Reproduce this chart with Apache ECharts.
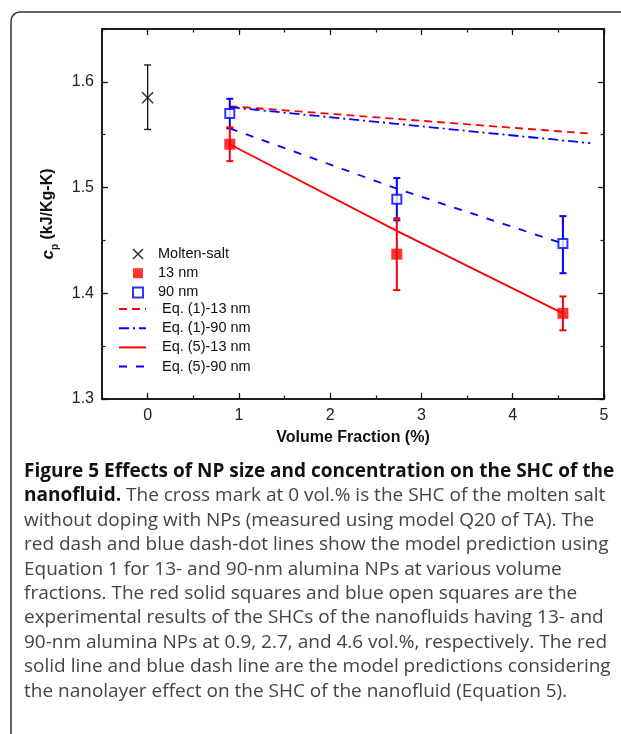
<!DOCTYPE html>
<html><head><meta charset="utf-8">
<script src="https://cdn.jsdelivr.net/npm/echarts@6/dist/echarts.min.js"></script>
<style>
html,body{margin:0;padding:0;background:#fff;}
#wrap{position:relative;width:621px;height:734px;overflow:hidden;}
#chart{position:absolute;left:0;top:0;width:621px;height:734px;}
#cap{position:absolute;left:24px;top:458px;font-family:'Open Sans',sans-serif;font-size:19px;line-height:24.4px;color:#444;white-space:nowrap;}
#cap b{color:#111;}
</style></head>
<body><div id="wrap"><div id="chart"></div>
<div id="cap"><b>Figure 5 Effects of NP size and concentration on the SHC of the<br>nanofluid.</b> The cross mark at 0 vol.% is the SHC of the molten salt<br>without doping with NPs (measured using model Q20 of TA). The<br>red dash and blue dash-dot lines show the model prediction using<br>Equation 1 for 13- and 90-nm alumina NPs at various volume<br>fractions. The red solid squares and blue open squares are the<br>experimental results of the SHCs of the nanofluids having 13- and<br>90-nm alumina NPs at 0.9, 2.7, and 4.6 vol.%, respectively. The red<br>solid line and blue dash line are the model predictions considering<br>the nanolayer effect on the SHC of the nanofluid (Equation 5).</div>
</div>
<script>
// ---- data ----
const xTickValues = [0, 1, 2, 3, 4, 5];
const yTickValues = [1.3, 1.4, 1.5, 1.6];
const moltenX = [0];
const moltenY = [1.585];
const moltenLo = [1.555];
const moltenHi = [1.616];
const volumeFraction = [0.9, 2.73, 4.55];
const nm13 = [1.541, 1.437, 1.381];
const nm13Lo = [1.525, 1.403, 1.365];
const nm13Hi = [1.557, 1.471, 1.397];
const nm90 = [1.570, 1.489, 1.447];
const nm90Lo = [1.556, 1.469, 1.419];
const nm90Hi = [1.584, 1.509, 1.473];
const eq1X = [0.9, 4.85];
const eq1_13 = [1.577, 1.551];
const eq1_90 = [1.576, 1.542];
const eq5_13 = [1.541, 1.459, 1.381];
const eq5_90 = [1.556, 1.499, 1.447];

const FONT = "'Liberation Sans', Arial, sans-serif";
const pairs = (xs, ys) => xs.map((x, i) => [x, ys[i]]);
const errData = (xs, ys, lo, hi) => xs.map((x, i) => [x, ys[i], lo[i], hi[i]]);

function errRender(color, width, cap) {
  return function (params, api) {
    const x = api.value(0), lo = api.value(2), hi = api.value(3);
    const a = api.coord([x, hi]), b = api.coord([x, lo]);
    const st = { stroke: color, lineWidth: width };
    return { type: 'group', children: [
      { type: 'line', shape: { x1: a[0], y1: a[1], x2: b[0], y2: b[1] }, style: st },
      { type: 'line', shape: { x1: a[0] - cap, y1: a[1], x2: a[0] + cap, y2: a[1] }, style: st },
      { type: 'line', shape: { x1: b[0] - cap, y1: b[1], x2: b[0] + cap, y2: b[1] }, style: st }
    ]};
  };
}

const axisLineStyle = { color: '#111', width: 1.5 };
const lbl = { fontFamily: FONT, fontSize: 16, color: '#222' };
function xAx(pos, major, showLabel, name) {
  const o = {
    type: 'value', position: pos, min: -0.5, max: 5, gridIndex: 0,
    axisLine: { show: true, onZero: false, lineStyle: axisLineStyle },
    splitLine: { show: false },
    axisTick: major ? { show: true, inside: true, length: 6, customValues: xTickValues, lineStyle: { color: '#111', width: 1.2 } }
                    : { show: true, inside: true, length: 3.5, lineStyle: { color: '#111', width: 1.2 } },
    axisLabel: showLabel ? Object.assign({ show: true, margin: 9, customValues: xTickValues, formatter: v => String(Math.round(v)) }, lbl) : { show: false }
  };
  if (!major) o.interval = 0.5;
  if (name) {
    o.name = name; o.nameLocation = 'middle'; o.nameGap = 31;
    o.nameTextStyle = { fontFamily: FONT, fontSize: 16, fontWeight: 'bold', color: '#111' };
  }
  return o;
}
function yAx(pos, major, showLabel, name) {
  const o = {
    type: 'value', position: pos, min: 1.3, max: 1.65, gridIndex: 0,
    axisLine: { show: true, onZero: false, lineStyle: axisLineStyle },
    splitLine: { show: false },
    axisTick: major ? { show: true, inside: true, length: 6, customValues: yTickValues, lineStyle: { color: '#111', width: 1.2 } }
                    : { show: true, inside: true, length: 3.5, lineStyle: { color: '#111', width: 1.2 } },
    axisLabel: showLabel ? Object.assign({ show: true, margin: 8, customValues: yTickValues, formatter: v => v.toFixed(1) }, lbl) : { show: false }
  };
  if (!major) o.interval = 0.05;
  if (name) {
    o.name = name; o.nameLocation = 'middle'; o.nameGap = 42; o.nameRotate = 90;
    o.nameTextStyle = { fontFamily: FONT, fontSize: 16, fontWeight: 'bold', color: '#111',
      rich: {
        c: { fontFamily: FONT, fontSize: 17, fontStyle: 'italic', fontWeight: 'bold', color: '#111', lineHeight: 24, verticalAlign: 'middle' },
        p: { fontFamily: FONT, fontSize: 10, fontWeight: 'bold', color: '#111', lineHeight: 10, verticalAlign: 'bottom' },
        t: { fontFamily: FONT, fontSize: 16, fontWeight: 'bold', color: '#111', lineHeight: 24, verticalAlign: 'middle' }
      } };
  }
  return o;
}

const RED = '#ff0000', BLUE = '#0000ff';
const hiddenSym = { color: 'transparent', borderColor: 'transparent', borderWidth: 0, opacity: 0 };
const option = {
  animation: false,
  backgroundColor: '#fff',
  grid: { left: 102, top: 29, right: 17, bottom: 335, containLabel: false },
  xAxis: [ xAx('bottom', true, true, 'Volume Fraction (%)'), xAx('top', true, false), xAx('bottom', false, false), xAx('top', false, false) ],
  yAxis: [ yAx('left', true, true, '{c|c}{p|p}{t| (kJ/Kg-K)}'), yAx('right', true, false), yAx('left', false, false), yAx('right', false, false) ],
  legend: [
    { orient: 'vertical', left: 132, top: 246.5, padding: 0, itemWidth: 10, itemHeight: 10, itemGap: 4.2,
      selectedMode: false, textStyle: { fontFamily: FONT, fontSize: 14.5, color: '#111', padding: [0, 0, 0, 10] },
      data: [
        { name: 'Molten-salt', icon: 'path://M0,0L10,10M10,0L0,10', itemStyle: { color: 'transparent', borderColor: '#000', borderWidth: 1.5 } },
        { name: '13 nm', icon: 'rect', itemStyle: { color: RED } },
        { name: '90 nm', icon: 'rect', itemStyle: { color: '#fff', borderColor: BLUE, borderWidth: 2 } }
      ] },
    { orient: 'vertical', left: 118, top: 301.5, padding: 0, itemWidth: 27, itemHeight: 12, itemGap: 4.2,
      selectedMode: false, textStyle: { fontFamily: FONT, fontSize: 14.5, color: '#111', padding: [0, 0, 0, 11] },
      itemStyle: hiddenSym,
      data: [
        { name: 'Eq. (1)-13 nm', itemStyle: hiddenSym },
        { name: 'Eq. (1)-90 nm', itemStyle: hiddenSym },
        { name: 'Eq. (5)-13 nm', itemStyle: hiddenSym },
        { name: 'Eq. (5)-90 nm', itemStyle: hiddenSym }
      ] }
  ],
  graphic: [
    { type: 'rect', shape: { x: 11, y: 12, width: 700, height: 800, r: 9 }, style: { fill: 'none', stroke: '#333', lineWidth: 1.5 }, z: 100, silent: true }
  ],
  series: [
    { name: 'Eq. (1)-13 nm', type: 'line', data: pairs(eq1X, eq1_13), symbol: 'none', z: 2,
      lineStyle: { color: RED, width: 1.8, type: [8, 5] }, itemStyle: { color: RED } },
    { name: 'Eq. (1)-90 nm', type: 'line', data: pairs(eq1X, eq1_90), symbol: 'none', z: 2,
      lineStyle: { color: BLUE, width: 1.8, type: [10, 4, 2, 4] }, itemStyle: { color: BLUE } },
    { name: 'Eq. (5)-13 nm', type: 'line', data: pairs(volumeFraction, eq5_13), symbol: 'none', z: 2,
      lineStyle: { color: RED, width: 1.8, type: 'solid' }, itemStyle: { color: RED } },
    { name: 'Eq. (5)-90 nm', type: 'line', data: pairs(volumeFraction, eq5_90), symbol: 'none', z: 2,
      lineStyle: { color: BLUE, width: 1.8, type: [8, 9] }, itemStyle: { color: BLUE } },
    { name: 'err-molten', type: 'custom', renderItem: errRender('#111', 1.3, 3.5), data: errData(moltenX, moltenY, moltenLo, moltenHi), z: 3, silent: true },
    { name: 'err-90', type: 'custom', renderItem: errRender(BLUE, 2, 3.5), data: errData(volumeFraction, nm90, nm90Lo, nm90Hi), z: 3, silent: true },
    { name: 'err-13', type: 'custom', renderItem: errRender(RED, 2, 3.5), data: errData(volumeFraction, nm13, nm13Lo, nm13Hi), z: 4, silent: true },
    { name: 'Molten-salt', type: 'scatter', data: pairs(moltenX, moltenY), symbol: 'path://M0,0L10,10M10,0L0,10', symbolSize: 11, z: 5,
      itemStyle: { color: 'transparent', borderColor: '#000', borderWidth: 1.5 } },
    { name: '90 nm', type: 'scatter', data: pairs(volumeFraction, nm90), symbol: 'rect', symbolSize: 9, z: 5,
      itemStyle: { color: '#fff', borderColor: BLUE, borderWidth: 2 } },
    { name: '13 nm', type: 'scatter', data: pairs(volumeFraction, nm13), symbol: 'rect', symbolSize: 11, z: 6,
      itemStyle: { color: RED } }
  ]
};
const chart = echarts.init(document.getElementById('chart'), null, { renderer: 'canvas' });
chart.setOption(option);
</script>
</body></html>
